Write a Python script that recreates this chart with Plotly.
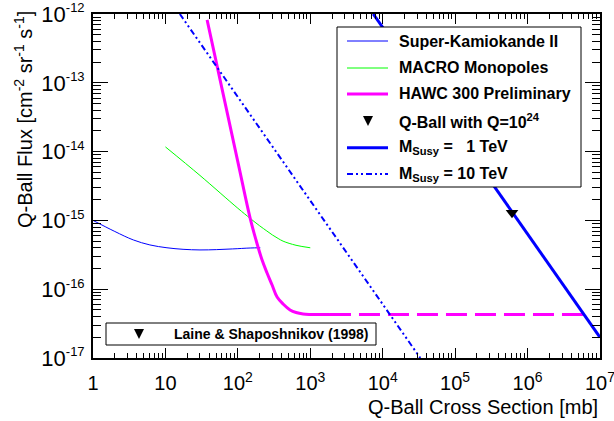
import plotly.graph_objects as go

# ---------------- data ----------------
superk_x = [1, 2, 3.6, 6.1, 10.5, 17.5, 30, 51, 85, 148, 204]
superk_y = [1.0e-15, 6.9e-16, 5.2e-16, 4.4e-16, 4.0e-16, 3.8e-16, 3.72e-16, 3.76e-16, 3.85e-16, 3.97e-16, 4.0e-16]

macro_x = [10, 30, 100, 148, 200, 251, 300, 360, 421, 635, 1000]
macro_y = [1.17e-14, 4.5e-15, 1.5e-15, 1.07e-15, 8.34e-16, 7.02e-16, 6.14e-16, 5.46e-16, 4.99e-16, 4.35e-16, 4.0e-16]

hawc_x = [37.6, 100, 148, 178, 216, 253, 297, 348, 421, 526, 637, 795, 1000, 1870]
hawc_y = [8.2e-13, 7.1e-15, 1.07e-15, 5.19e-16, 2.65e-16, 1.72e-16, 1.15e-16, 7.7e-17, 6.1e-17, 5.0e-17, 4.58e-17, 4.36e-17, 4.3e-17, 4.3e-17]

hawc_ext_x = [1870, 5.9e6]
hawc_ext_y = [4.3e-17, 4.3e-17]

qball_x = [6.1e5]
qball_y = [1.29e-15]

msusy1_x = [7.4e3, 1e7]
msusy1_y = [1e-12, 2e-17]

msusy10_x = [15.8, 3.3e4]
msusy10_y = [1e-12, 1e-17]

x_tickvals = [1, 10, 1e2, 1e3, 1e4, 1e5, 1e6, 1e7]
x_ticktext = ["1", "10", "10<sup>2</sup>", "10<sup>3</sup>", "10<sup>4</sup>",
              "10<sup>5</sup>", "10<sup>6</sup>", "10<sup>7</sup>"]
y_tickvals = [1e-17, 1e-16, 1e-15, 1e-14, 1e-13, 1e-12]
y_exponents = ["-17", "-16", "-15", "-14", "-13", "-12"]
y_ticktext = ["10<sup><span style='font-size:13px'>" + e + "</span></sup>" for e in y_exponents]

legend_labels = ["Super-Kamiokande II", "MACRO Monopoles", "HAWC 300 Preliminary",
                 "Q-Ball with Q=10<sup>24</sup>",
                 "M<sub>Susy</sub> =\u00a0\u00a0\u00a01 TeV",
                 "M<sub>Susy</sub> = 10 TeV"]
ref_label = "Laine & Shaposhnikov (1998)"

# ---------------- layout geometry (pixels) ----------------
W, H = 614, 421
L, R, T, B = 93, 600, 14, 358
def px(x):
    return (x - L) / (R - L)
def py(y):
    return (B - y) / (B - T)

FONT = "Liberation Sans, Arial, Helvetica, sans-serif"
BLUE = "#0000ff"
GREEN = "#00ff00"
MAG = "#ff00ff"
DASHDOT = "6px,3px,2px,3px,2px,3px"

fig = go.Figure()
fig.add_trace(go.Scatter(x=superk_x, y=superk_y, mode="lines",
                         line=dict(color=BLUE, width=1, shape="spline", smoothing=1)))
fig.add_trace(go.Scatter(x=macro_x, y=macro_y, mode="lines",
                         line=dict(color=GREEN, width=1, shape="spline", smoothing=1)))
fig.add_trace(go.Scatter(x=hawc_x, y=hawc_y, mode="lines",
                         line=dict(color=MAG, width=3, shape="spline", smoothing=1)))
fig.add_trace(go.Scatter(x=hawc_ext_x, y=hawc_ext_y, mode="lines",
                         line=dict(color=MAG, width=3, dash="21px,8px")))
fig.add_trace(go.Scatter(x=msusy10_x, y=msusy10_y, mode="lines",
                         line=dict(color=BLUE, width=2, dash=DASHDOT)))
fig.add_trace(go.Scatter(x=msusy1_x, y=msusy1_y, mode="lines",
                         line=dict(color=BLUE, width=3)))
fig.add_trace(go.Scatter(x=qball_x, y=qball_y, mode="markers",
                         marker=dict(symbol="triangle-down", size=11, color="black")))
# invisible trace to activate the mirrored (top/right) tick axes
fig.add_trace(go.Scatter(x=qball_x, y=qball_y, mode="markers", xaxis="x2", yaxis="y2",
                         marker=dict(opacity=0), hoverinfo="skip"))

shapes = []
annotations = []

# main legend box
shapes.append(dict(type="rect", xref="paper", yref="paper",
                   x0=px(337), x1=px(581), y0=py(187), y1=py(27),
                   line=dict(color="black", width=1), fillcolor="white", layer="above"))
rows = [41, 68, 94, 121, 147.7, 174]
samples = [dict(color=BLUE, width=1), dict(color=GREEN, width=1), dict(color=MAG, width=3),
           None, dict(color=BLUE, width=3),
           dict(color=BLUE, width=2, dash=DASHDOT)]
def tri(cx, cy, s=5):
    pts = [(cx - s, cy - s), (cx + s, cy - s), (cx, cy + s)]
    return "M " + " L ".join(f"{px(a)} {py(b)}" for a, b in pts) + " Z"
for yy, smp, lab in zip(rows, samples, legend_labels):
    if smp is None:
        shapes.append(dict(type="path", xref="paper", yref="paper", path=tri(368, yy),
                           fillcolor="black", line=dict(color="black", width=0), layer="above"))
    else:
        shapes.append(dict(type="line", xref="paper", yref="paper",
                           x0=px(347), x1=px(388), y0=py(yy), y1=py(yy),
                           line=smp, layer="above"))
    annotations.append(dict(xref="paper", yref="paper", x=px(397), y=py(yy),
                            xanchor="left", yanchor="middle", showarrow=False,
                            text="<b>" + lab + "</b>",
                            font=dict(family=FONT, size=16, color="black")))

# reference box
shapes.append(dict(type="rect", xref="paper", yref="paper",
                   x0=px(106), x1=px(376), y0=py(345), y1=py(323),
                   line=dict(color="black", width=1), fillcolor="white", layer="above"))
shapes.append(dict(type="path", xref="paper", yref="paper", path=tri(139, 334),
                   fillcolor="black", line=dict(color="black", width=0), layer="above"))
annotations.append(dict(xref="paper", yref="paper", x=px(172), y=py(334),
                        xanchor="left", yanchor="middle", showarrow=False,
                        text="<b>" + ref_label + "</b>",
                        font=dict(family=FONT, size=14, color="black")))

# axis titles
annotations.append(dict(xref="paper", yref="paper", x=1.0, y=py(406.5),
                        xanchor="right", yanchor="middle", showarrow=False,
                        text="Q-Ball Cross Section [mb]",
                        font=dict(family=FONT, size=20, color="black")))
annotations.append(dict(xref="paper", yref="paper", x=px(23), y=py(120),
                        xanchor="center", yanchor="middle", showarrow=False, textangle=-90,
                        text="Q-Ball Flux [cm<sup>-2</sup> sr<sup>-1</sup> s<sup>-1</sup>]",
                        font=dict(family=FONT, size=20, color="black")))

x_minor = [m * 10 ** k for k in range(0, 7) for m in range(2, 10)]
y_minor = [m * 10.0 ** k for k in range(-17, -12) for m in range(2, 10)]
XR = [-0.0002, 7.0002]
YR = [-17.0002, -11.9998]

common_x = dict(type="log", range=XR, showgrid=False, zeroline=False, automargin=False,
                ticks="inside", ticklen=10, tickwidth=1, tickcolor="black",
                tickvals=x_tickvals,
                minor=dict(ticks="inside", ticklen=5, tickwidth=1, tickcolor="black",
                           tickvals=x_minor, showgrid=False))
common_y = dict(type="log", range=YR, showgrid=False, zeroline=False, automargin=False,
                ticks="inside", ticklen=15, tickwidth=1, tickcolor="black",
                tickvals=y_tickvals,
                minor=dict(ticks="inside", ticklen=8, tickwidth=1, tickcolor="black",
                           tickvals=y_minor, showgrid=False))

fig.update_layout(
    width=W, height=H, margin=dict(l=L, r=W - R, t=T, b=H - B, autoexpand=False),
    paper_bgcolor="white", plot_bgcolor="white", showlegend=False,
    font=dict(family=FONT, color="black"),
    shapes=shapes, annotations=annotations,
    xaxis=dict(**common_x, showline=True, linecolor="black", linewidth=2, mirror=True,
               ticktext=x_ticktext, ticklabelstandoff=6, ticklabeloverflow="allow",
               tickfont=dict(family=FONT, size=20, color="black")),
    yaxis=dict(**common_y, showline=True, linecolor="black", linewidth=2, mirror=True,
               ticktext=y_ticktext, ticklabelstandoff=2, ticklabeloverflow="allow",
               tickfont=dict(family=FONT, size=22, color="black")),
    xaxis2=dict(**common_x, overlaying="x", side="top", showticklabels=False,
                showline=False),
    yaxis2=dict(**common_y, overlaying="y", side="right", showticklabels=False,
                showline=False),
)

fig.write_html("out.html")
